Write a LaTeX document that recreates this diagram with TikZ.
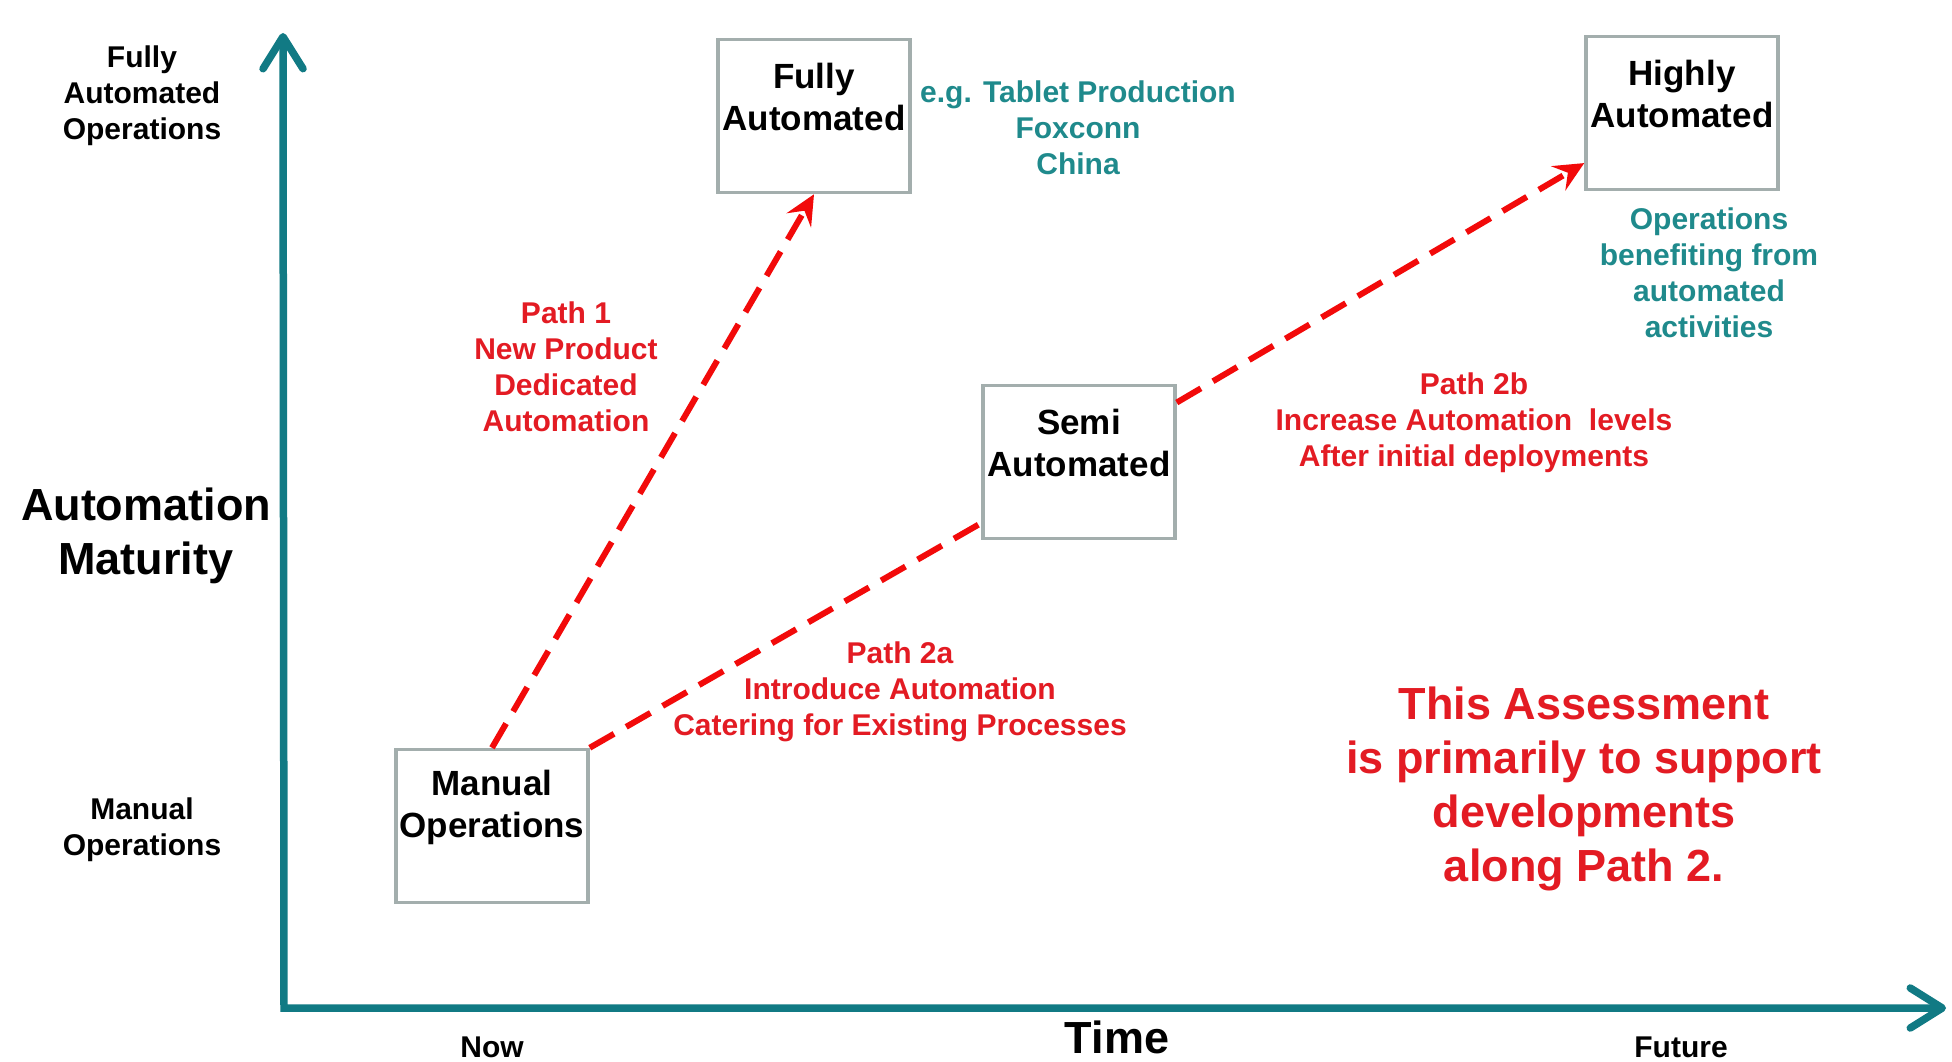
\documentclass[tikz,border=0pt]{standalone}
\usepackage{fontspec}
\setmainfont{Liberation Sans}
\usetikzlibrary{arrows.meta,calc}
\definecolor{axisteal}{HTML}{117A84}
\definecolor{textteal}{HTML}{1F8A8C}
\definecolor{pathred}{HTML}{F20A0A}
\definecolor{textred}{HTML}{E31B23}
\definecolor{boxgray}{HTML}{A3AEAD}
\tikzset{
  axtip/.tip={Straight Barb[length=32pt, width=40pt, round]},
  redtip/.tip={Stealth[length=30pt, width=28pt, inset=11pt]}
}
\begin{document}
\begin{tikzpicture}[x=1pt,y=-1pt,
  box/.style={draw=boxgray, line width=3.5pt, fill=white, minimum width=192pt, minimum height=153pt, inner sep=0pt},
  boxtext/.style={font=\bfseries\fontsize{35}{42}\selectfont, align=center, inner sep=0pt},
  lbl/.style={font=\bfseries\fontsize{30}{36}\selectfont, align=center, inner sep=0pt},
  bigtext/.style={font=\bfseries\fontsize{45}{54}\selectfont, align=center, inner sep=0pt},
  redpath/.style={draw=pathred, line width=6pt, dash pattern=on 28pt off 14pt},
  axisline/.style={draw=axisteal, line width=7.5pt, line join=miter}
]
\useasboundingbox (0,0) rectangle (1952,1062);
\fill[white] (0,0) rectangle (1952,1062);

% axes
\coordinate (ytip) at (283,33);
\coordinate (origin) at (284,1008);
\coordinate (xtip) at (1946,1008);
\draw[axisline, axtip-axtip] (ytip) -- (origin) -- (xtip);

% boxes
\node[box] (fa) at (814,116) {};
\node[box] (ha) at (1682,113) {};
\node[box] (sa) at (1079,462) {};
\node[box] (mo) at (492,826) {};
\node[boxtext] (fat) at ($(fa.center)+(0,-19)$) {Fully\\Automated};
\node[boxtext] (hat) at ($(ha.center)+(0,-19)$) {Highly\\Automated};
\node[boxtext] (sat) at ($(sa.center)+(0,-19)$) {Semi\\Automated};
\node[boxtext] (mot) at ($(mo.center)+(0,-19)$) {Manual\\Operations};

% axis labels
\node[lbl] (lfa) at (142,96) {Fully\\Automated\\Operations};
\node[bigtext] (lam) at (146,536) {Automation\\Maturity};
\node[lbl] (lmo) at (142,830) {Manual\\Operations};
\node[lbl, anchor=base] (lnow) at (492,1057) {Now};
\node[font=\bfseries\fontsize{45}{54}\selectfont, inner sep=0pt, anchor=base] (ltime) at (1117,1053) {Time};
\node[lbl, anchor=base] (lfut) at (1681,1057) {Future};

% teal notes
\node[lbl, text=textteal] (eg) at (1078,128) {e.g. Tablet Production\\Foxconn\\China};
\node[lbl, text=textteal] (ops) at (1709,273) {Operations\\benefiting from\\automated\\activities};

% red path labels
\node[lbl, text=textred] (p1) at (566,367) {Path 1\\New Product\\Dedicated\\Automation};
\node[lbl, text=textred] (p2a) at (900,692) {Path 2a\\Introduce Automation\\Catering for Existing Processes};
\node[lbl, text=textred] (p2b) at (1474,423) {Path 2b\\Increase Automation\ \ levels\\After initial deployments};
\node[bigtext, text=textred] (assess) at (1584,789) {This Assessment\\is primarily to support\\developments\\along Path 2.};

% connectors
\coordinate (sain) at ($(sa.south west)!0.11!(sa.north west)$);
\coordinate (saout) at ($(sa.south east)!0.88!(sa.north east)$);
\coordinate (hain) at ($(ha.south west)!0.18!(ha.north west)$);
\draw[redpath, -redtip] (mo.north) -- (fa.south);
\draw[redpath] (mo.north east) -- (sain);
\draw[redpath, -redtip] (saout) -- (hain);
\end{tikzpicture}
\end{document}
